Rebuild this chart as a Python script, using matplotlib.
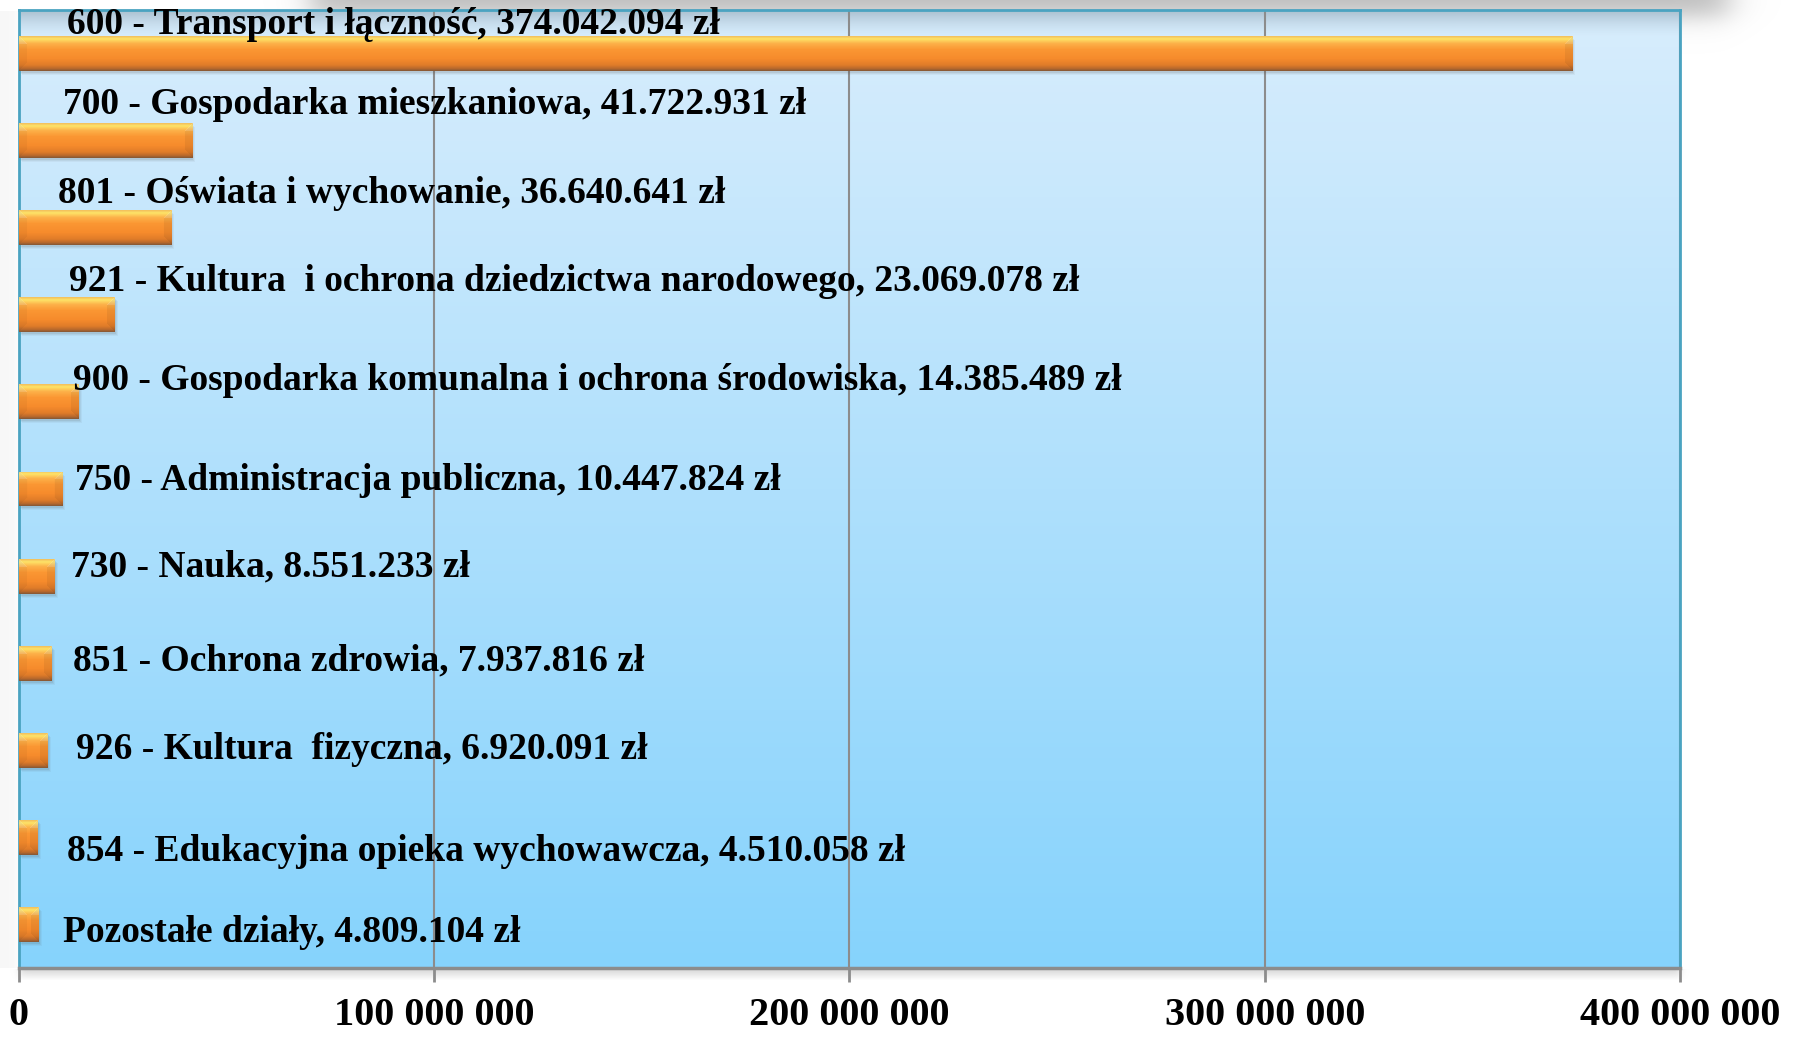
#!/usr/bin/env python3
"""Wydatki według działów - wykres słupkowy poziomy -> out.png"""

import numpy as np
import matplotlib.pyplot as plt
from matplotlib.colors import to_rgb
from matplotlib.patches import Rectangle
from matplotlib.ticker import FixedLocator, FuncFormatter
from matplotlib.transforms import ScaledTranslation

W, H, DPI = 1808, 1039, 100

categories = [
    "600 - Transport i łączność",
    "700 - Gospodarka mieszkaniowa",
    "801 - Oświata i wychowanie",
    "921 - Kultura  i ochrona dziedzictwa narodowego",
    "900 - Gospodarka komunalna i ochrona środowiska",
    "750 - Administracja publiczna",
    "730 - Nauka",
    "851 - Ochrona zdrowia",
    "926 - Kultura  fizyczna",
    "854 - Edukacyjna opieka wychowawcza",
    "Pozostałe działy",
]
values = [374042094, 41722931, 36640641, 23069078, 14385489,
          10447824, 8551233, 7937816, 6920091, 4510058, 4809104]
x_ticks = [0, 100_000_000, 200_000_000, 300_000_000, 400_000_000]

# label placement (pixels from bar start / bar centre) - layout only
LBL_DX = [48, 44, 39, 50, 54, 56, 52, 54, 57, 48, 44]
LBL_DY = [-29, -36, -34, -33, -21, -9, -9, -2, -1, 14, 8]

SERIF = ["Liberation Serif", "DejaVu Serif"]
GRID = "#8c8c8c"
TEAL = "#4aa3c1"

# plot area in pixels
L, R, T, B = 19, 1680, 10, 968


def sig(z):
    return 1.0 / (1.0 + np.exp(-z))


def bar_texture(w_px, h_px):
    stops = [(0.00, "#f3c35e"), (0.07, "#fde468"), (0.20, "#fdb24a"),
             (0.38, "#fb9733"), (0.65, "#f68b2c"), (0.84, "#e07c29"),
             (0.94, "#b8692c"), (1.00, "#8c5a34")]
    t = np.linspace(0, 1, h_px)
    col = np.stack([np.interp(t, [s[0] for s in stops],
                              [to_rgb(s[1])[k] for s in stops]) for k in range(3)], -1)
    img = np.repeat(col[:, None, :], w_px, axis=1)
    yy, xx = np.mgrid[0:h_px, 0:w_px]
    dt, db = yy, h_px - 1 - yy
    dl, dr = xx, w_px - 1 - xx
    bev = 8
    left = (dl < bev) & (dl < dt) & (dl < db)
    right = (dr < bev) & (dr < dt) & (dr < db)
    img[left] *= 0.96
    img[right] *= 0.94
    # light mitre at the top corners
    img[(dt < bev) & (dl < dt + 1)] = img[(dt < bev) & (dl < dt + 1)] * 0.85 + 0.15
    img[(dt < bev) & (dr < dt + 1)] = img[(dt < bev) & (dr < dt + 1)] * 0.85 + 0.15
    return np.clip(img, 0, 1)


fig = plt.figure(figsize=(W / DPI, H / DPI), dpi=DPI)
fig.patch.set_facecolor("white")

# outer decoration: blurred shadow above the frame and under the axis line
bg = fig.add_axes([0, 0, 1, 1], zorder=-5)
bg.axis("off")
yy, xx = np.mgrid[0:H, 0:W].astype(float)
a = 0.85 * sig((xx - 310) / 9) * sig((1728 - xx) / 10) * sig((16 - yy) / 7)
a += 0.55 * sig((xx - L) / 2) * sig((R - xx) / 2) * np.clip(1 - (yy - B) / 12, 0, 1) * (yy > B)
a += 0.10 * sig((L - 2 - xx) / 3) * (yy > T) * (yy < B)
a = np.clip(a, 0, 1)
shade = np.zeros((H, W, 4))
shade[..., :3] = 0.70
shade[..., 3] = a
bg.imshow(shade, extent=(0, W, H, 0), interpolation="bilinear")
bg.set_xlim(0, W)
bg.set_ylim(H, 0)

ax = fig.add_axes([L / W, 1 - B / H, (R - L) / W, (B - T) / H])
n = len(categories)
pos = np.arange(n)

# background gradient of the plot area
grad = np.linspace(0, 1, 256)[:, None]
top_c, bot_c = np.array(to_rgb("#d8edfc")), np.array(to_rgb("#86d3fd"))
bgimg = (top_c * (1 - grad) + bot_c * grad)[:, None, :].repeat(2, axis=1)
ax.imshow(bgimg, extent=(0, 1, 0, 1), transform=ax.transAxes, aspect="auto",
          zorder=-2, origin="upper")
inner = np.zeros((64, 2, 4))
inner[..., :3] = to_rgb("#6f8796")
inner[..., 3] = (np.clip(1 - np.linspace(0, 1, 64), 0, 1) ** 1.6 * 0.45)[:, None]
ax.imshow(inner, extent=(0, 1, 1 - 28 / (B - T), 1), transform=ax.transAxes,
          aspect="auto", zorder=-1.5, origin="upper")

bars = ax.barh(pos, values, height=0.4, color="none", edgecolor="none", zorder=3)

ax.set_xlim(0, x_ticks[-1])
ax.set_ylim(n - 0.5, -0.5)

px_per_val = (R - L) / x_ticks[-1]
px_per_cat = (B - T) / n
for b, v in zip(bars, values):
    x0, y0 = b.get_x(), b.get_y()
    w, h = b.get_width(), b.get_height()
    w_px = max(int(round(v * px_per_val)), 4)
    h_px = max(int(round(h * px_per_cat)), 4)
    # soft shadow
    for k, al in enumerate([0.10, 0.08, 0.06]):
        off = ScaledTranslation((1 + k) / DPI, -(2 + k) / DPI, fig.dpi_scale_trans)
        ax.add_patch(Rectangle((x0, y0), w, h, facecolor="#555555", edgecolor="none",
                               alpha=al, transform=ax.transData + off, zorder=2))
    im = ax.imshow(bar_texture(w_px, h_px), extent=(x0, x0 + w, y0 + h, y0),
                   origin="upper", aspect="auto", interpolation="bilinear", zorder=3)
    im.set_clip_path(b)

ax.set_xlim(0, x_ticks[-1])
ax.set_ylim(n - 0.5, -0.5)

for i, (cat, v) in enumerate(zip(categories, values)):
    txt = f"{cat}, " + f"{v:,}".replace(",", ".") + " zł"
    ax.annotate(txt, xy=(0, i), xytext=(LBL_DX[i] * 0.72, -LBL_DY[i] * 0.72),
                textcoords="offset points", ha="left", va="center",
                fontsize=27, fontweight="bold", family=SERIF, color="black", zorder=5)

ax.xaxis.set_major_locator(FixedLocator(x_ticks))
ax.xaxis.set_major_formatter(FuncFormatter(lambda v, p: f"{int(v):,}".replace(",", " ")))
ax.set_yticks([])
ax.grid(axis="x", color=GRID, linewidth=1.5, zorder=0.5)
ax.set_axisbelow(True)
ax.tick_params(axis="x", length=10, width=2, color=GRID, pad=11,
               labelsize=29)
for lab in ax.get_xticklabels():
    lab.set_fontweight("bold")
    lab.set_family(SERIF)

for s in ("left", "right", "top"):
    ax.spines[s].set_color(TEAL)
    ax.spines[s].set_linewidth(2)
ax.spines["bottom"].set_color(GRID)
ax.spines["bottom"].set_linewidth(2.5)

fig.savefig("out.png", dpi=DPI, facecolor=fig.get_facecolor())
